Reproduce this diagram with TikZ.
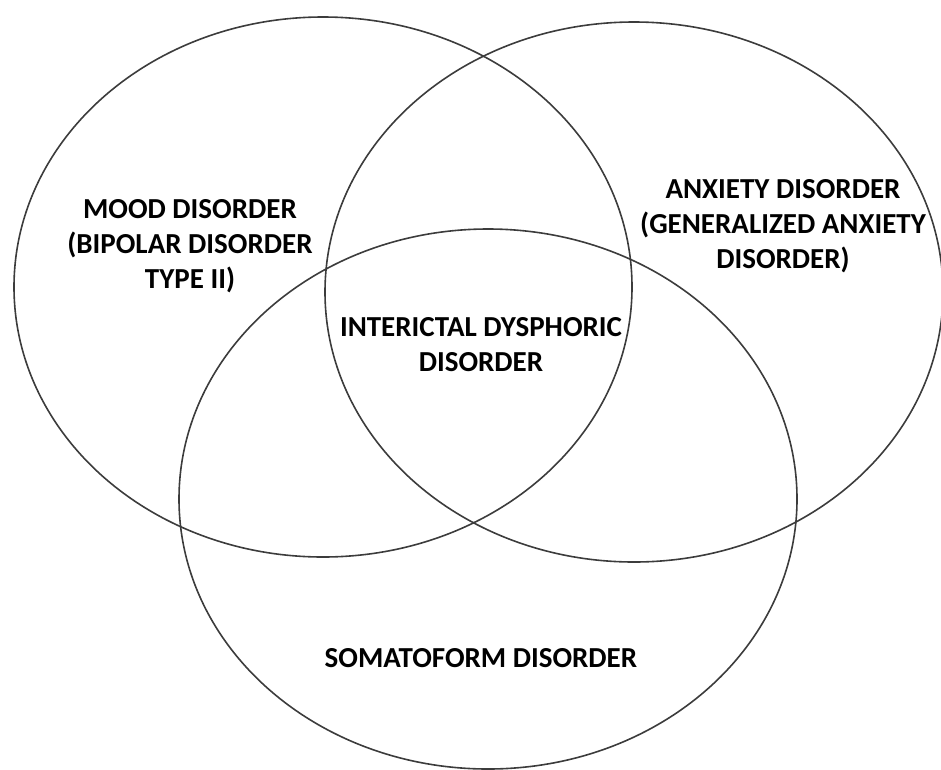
\documentclass[tikz,border=0pt]{standalone}
\usepackage{fontspec}
\setmainfont{Carlito}
\usepackage{tikz}
\usetikzlibrary{shapes.geometric}
\definecolor{VennLine}{RGB}{60,60,60}
\tikzset{
    setnode/.style={ellipse, draw=VennLine, line width=1.6pt, minimum width=618pt, minimum height=540pt, inner sep=0pt},
    labelnode/.style={align=center, font=\fontsize{29}{35}\selectfont\bfseries, text=black}
}
\begin{document}
\begin{tikzpicture}[x=1pt, y=-1pt]
    \useasboundingbox (0,0) rectangle (941,769);

    % --- TAP HOP ---
    \node[setnode] (mood) at (323,287) {};
    \node[setnode] (anxiety) at (634,292) {};
    \node[setnode] (soma) at (488,499) {};

    % --- NHAN ---
    \node[labelnode] (moodlbl) at (190,246) {MOOD DISORDER\\(BIPOLAR DISORDER\\TYPE II)};
    \node[labelnode] (anxietylbl) at (783,226) {ANXIETY DISORDER\\(GENERALIZED ANXIETY\\DISORDER)};
    \node[labelnode] (centerlbl) at (481,345) {INTERICTAL DYSPHORIC\\DISORDER};
    \node[labelnode] (somalbl) at (481,658) {SOMATOFORM DISORDER};
\end{tikzpicture}
\end{document}
